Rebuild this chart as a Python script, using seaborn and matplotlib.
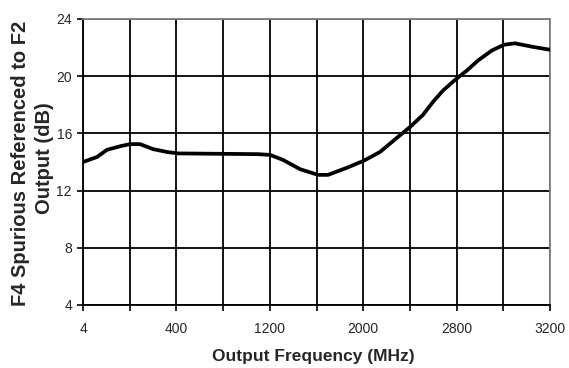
import matplotlib
matplotlib.use("Agg")
import matplotlib.pyplot as plt
import seaborn as sns
import pandas as pd

freq_pos = [0, 96, 164, 254, 322, 391, 480, 576, 651, 1192, 1281, 1370, 1487, 1610, 1679,
            1809, 1926, 2035, 2152, 2241, 2330, 2398, 2467, 2556, 2631, 2707, 2802, 2885,
            2960, 3083, 3200]
spur_db = [14.0, 14.35, 14.85, 15.1, 15.25, 15.25, 14.9, 14.7, 14.6, 14.55, 14.5, 14.15,
           13.5, 13.1, 13.1, 13.6, 14.1, 14.7, 15.7, 16.45, 17.3, 18.2, 19.0, 19.8, 20.4,
           21.1, 21.8, 22.2, 22.3, 22.05, 21.85]
xtick_pos = [0, 640, 1280, 1920, 2560, 3200]
xtick_labels = ["4", "400", "1200", "2000", "2800", "3200"]
ytick_vals = [4, 8, 12, 16, 20, 24]
ylabel_lines = ["F4 Spurious Referenced to F2", "Output (dB)"]

sns.set_style("white")
plt.rcParams['font.family'] = ['Liberation Sans', 'DejaVu Sans']

df = pd.DataFrame({"f": freq_pos, "db": spur_db})
fig = plt.figure(figsize=(5.69, 3.68), dpi=100)
ax = fig.add_axes([83/569, 1-305/368, (550-83)/569, (305-19)/368])

for g in range(0, 3201, 320):
    ax.axvline(g, color="black", lw=1.3, zorder=1)
for v in ytick_vals:
    ax.axhline(v, color="black", lw=1.3, zorder=1)

sns.lineplot(data=df, x="f", y="db", ax=ax, color="black", lw=2.7, zorder=3)

ax.set_xlim(0, 3200)
ax.set_ylim(4, 24)
ax.set_xticks(list(range(0, 3201, 320)), minor=False)
ax.set_xticklabels([xtick_labels[xtick_pos.index(t)] if t in xtick_pos else "" for t in range(0, 3201, 320)])
ax.set_yticks(ytick_vals)
ax.tick_params(axis="both", direction="out", length=4, width=1.2, color="black",
               labelsize=10, pad=4, bottom=True, left=True)
ax.tick_params(axis="x", pad=8)
ax.set_xlabel("")
ax.set_ylabel("")
for s in ["left", "bottom"]:
    ax.spines[s].set_color("black")
    ax.spines[s].set_linewidth(1.3)
for s in ["top", "right"]:
    ax.spines[s].set_color("#808080")
    ax.spines[s].set_linewidth(1.3)

fig.text(21/569, 1-163/368, ylabel_lines[0], rotation=90,
         ha="center", va="center", fontsize=14.5, fontweight="bold")
fig.text(45/569, 1-158/368, ylabel_lines[1], rotation=90,
         ha="center", va="center", fontsize=14.5, fontweight="bold")
fig.text(313/569, 1-357/368, "Output Frequency (MHz)", ha="center", va="center",
         fontsize=12.5, fontweight="bold")

fig.savefig("out.png", dpi=100)
